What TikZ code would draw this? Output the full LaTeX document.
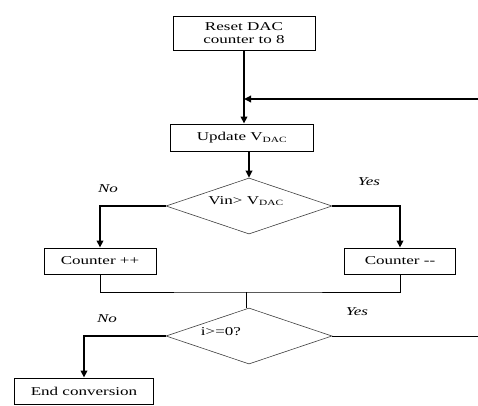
\documentclass[tikz,border=0pt]{standalone}
\usepackage{fontspec}
\setmainfont{Liberation Serif}[FakeStretch=1.42]
\usetikzlibrary{arrows.meta,shapes.geometric}

\begin{document}
\begin{tikzpicture}[x=1pt,y=-1pt,
        font=\fontsize{12}{12.5}\selectfont,
        box/.style={draw,line width=0.9pt,inner sep=0pt,align=center},
        decision/.style={draw,diamond,aspect=3,draw=black!75,line width=0.6pt,inner sep=0pt,minimum width=166pt,minimum height=56pt},
        flow/.style={line width=1.8pt,-{Triangle[length=7pt,width=6.5pt]}},
        link/.style={line width=0.7pt},
        answer/.style={font=\fontsize{12}{12.5}\selectfont\itshape}]
                \useasboundingbox (0,0) rectangle (478,405);

                \node[box,minimum width=142pt,minimum height=34pt] (reset) at (244,33) {Reset DAC\\counter to 8};
                \node[box,minimum width=143pt,minimum height=27pt] (update) at (242,137.5) {Update V\textsubscript{DAC}};
                \node[decision] (cmp) at (249,206) {};
                \node (cmptext) at (246,201) {Vin> V\textsubscript{DAC}};
                \node[box,minimum width=112pt,minimum height=26pt] (cinc) at (100,261) {Counter ++};
                \node[box,minimum width=111pt,minimum height=26pt] (cdec) at (400,261) {Counter -{}-};
                \node[decision] (chk) at (249,336) {};
                \node (chktext) at (221,332) {i>=0?};
                \node[box,minimum width=139pt,minimum height=26pt] (endc) at (84,391) {End conversion};

                \coordinate (back) at (478,99);
                \coordinate (mrg) at (246,292);
                \coordinate (loop) at (478,336);

                \draw[flow] (reset.south) -- (reset.south |- update.north);
                \draw[flow] (back) -- (back -| reset.south);
                \draw[flow] (cmp.north |- update.south) -- (cmp.north);
                \draw[flow] (cmp.west) -| (cinc.north);
                \draw[flow] (cmp.east) -| (cdec.north);
                \draw[link] (cinc.south) |- (mrg) -| (cdec.south);
                \draw[link] (mrg) -- (mrg |- chk.north);
                \draw[link] (chk.east) -- (loop);
                \draw[flow] (chk.west) -| (endc.north);

                \node[answer] (no1) at (108,189) {No};
                \node[answer] (yes1) at (369,182) {Yes};
                \node[answer] (yes2) at (357,312) {Yes};
                \node[answer] (no2) at (107,319) {No};
\end{tikzpicture}
\end{document}
